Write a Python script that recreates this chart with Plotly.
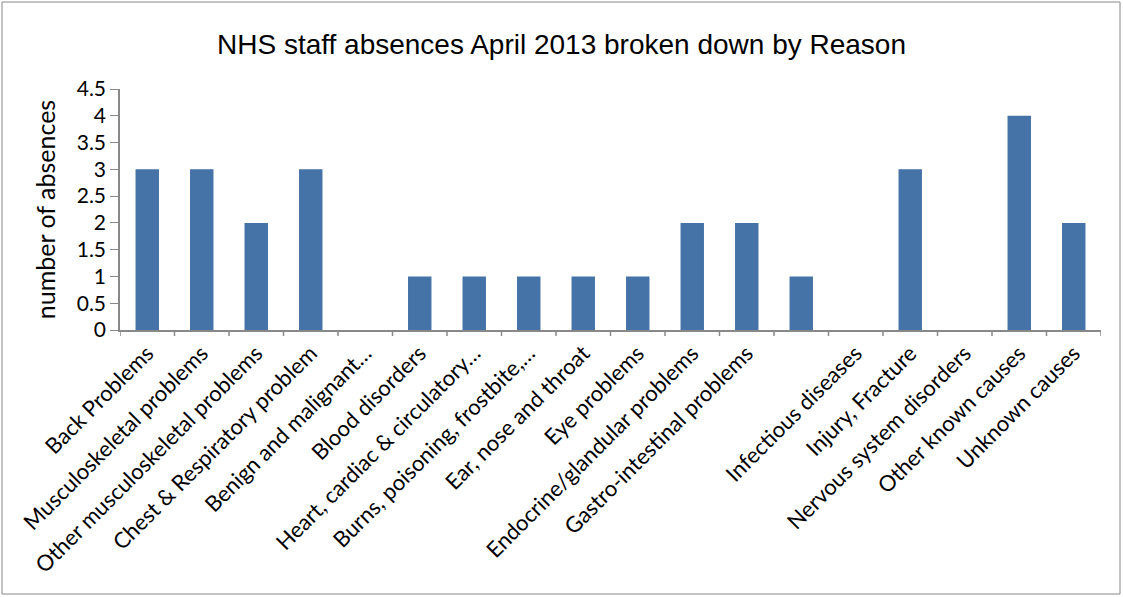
import plotly.graph_objects as go

categories = [
    "Back Problems", "Musculoskeletal problems", "Other musculoskeletal problems",
    "Chest & Respiratory problem", "Benign and malignant…", "Blood disorders",
    "Heart, cardiac & circulatory…", "Burns, poisoning, frostbite,…",
    "Ear, nose and throat", "Eye problems", "Endocrine/glandular problems",
    "Gastro-intestinal problems", "", "Infectious diseases", "Injury, Fracture",
    "Nervous system disorders", "Other known causes", "Unknown causes",
]
absences = [3, 3, 2, 3, 0, 1, 1, 1, 1, 1, 2, 2, 1, 0, 3, 0, 4, 2]
y_ticks = [0, 0.5, 1, 1.5, 2, 2.5, 3, 3.5, 4, 4.5]

W, H = 1123, 597
L, R, T, B = 120, 22, 89, 267
pw, ph = W - L - R, H - T - B

positions = list(range(len(categories)))

fig = go.Figure(go.Bar(
    x=positions, y=absences,
    marker=dict(color="#4572A7", line=dict(width=0)),
))

font = "Lato, Carlito, 'Liberation Sans', sans-serif"
title_font = "'Liberation Sans', Arial, sans-serif"

fig.update_layout(
    width=W, height=H,
    margin=dict(l=L, r=R, t=T, b=B),
    paper_bgcolor="white", plot_bgcolor="white",
    bargap=0.57,
    showlegend=False,
    font=dict(family=font, color="#000000"),
    title=dict(text="NHS staff absences April 2013 broken down by Reason",
               x=0.5, xref="container", xanchor="center",
               y=1 - 44 / H, yanchor="middle",
               font=dict(size=28, family=title_font, color="#000")),
    xaxis=dict(
        tickmode="array", tickvals=positions, ticktext=categories,
        range=[-0.5, len(categories) - 0.5],
        tickangle=-45, tickfont=dict(size=22, family=font, color="#000"),
        showline=True, linecolor="#888888", linewidth=1.5,
        ticks="", showgrid=False, zeroline=False,
    ),
    yaxis=dict(
        range=[0, 4.5], tickmode="array", tickvals=y_ticks,
        ticktext=[f"{v:g}" for v in y_ticks],
        tickfont=dict(size=21, family=font, color="#000"),
        showline=True, linecolor="#888888", linewidth=1.5,
        ticks="outside", ticklen=8, tickcolor="#888888",
        showgrid=False, zeroline=False,
        title=dict(text="number of absences", font=dict(size=25, family=font, color="#000"), standoff=14),
    ),
)

# category boundary ticks
boundaries = [i - 0.5 for i in range(len(categories) + 1)]
for bx in boundaries:
    fig.add_shape(type="line", xref="x", yref="paper", x0=bx, x1=bx, y0=0, y1=-6 / ph,
                  line=dict(color="#888888", width=1.5))

# outer chart border (pixel -> paper)
def px_x(p):
    return (p - L) / pw

def px_y(p):
    return (H - B - p) / ph

fig.add_shape(type="rect", xref="paper", yref="paper",
              x0=px_x(2), x1=px_x(W - 3),
              y0=px_y(H - 3), y1=px_y(2),
              line=dict(color="#888888", width=1), layer="below")

fig.write_html("out.html")
